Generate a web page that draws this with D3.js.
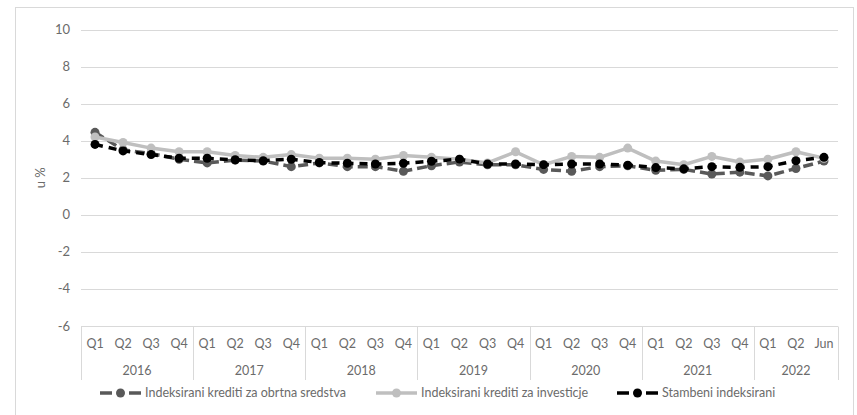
<!DOCTYPE html>
<html>
<head>
<meta charset="utf-8">
<script src="https://cdn.jsdelivr.net/npm/d3@7"></script>
<style>
  body { margin: 0; background: #fff; }
  svg text { font-family: Lato, "Open Sans", sans-serif; fill: #6b6b6b; }
</style>
</head>
<body>
<svg id="chart"></svg>
<script>
// quarters and years on the x axis
const years = ["2016", "2017", "2018", "2019", "2020", "2021", "2022"];
const periods = [
  "Q1","Q2","Q3","Q4", "Q1","Q2","Q3","Q4", "Q1","Q2","Q3","Q4",
  "Q1","Q2","Q3","Q4", "Q1","Q2","Q3","Q4", "Q1","Q2","Q3","Q4",
  "Q1","Q2","Jun"
];
const periodYear = [
  "2016","2016","2016","2016", "2017","2017","2017","2017", "2018","2018","2018","2018",
  "2019","2019","2019","2019", "2020","2020","2020","2020", "2021","2021","2021","2021",
  "2022","2022","2022"
];

// series values (u %)
const obrtna = [
  4.45, 3.5, 3.3, 3.0, 2.8, 2.95, 2.9, 2.6, 2.8, 2.6, 2.6, 2.35,
  2.65, 2.85, 2.7, 2.7, 2.45, 2.35, 2.6, 2.65, 2.4, 2.45, 2.2, 2.3,
  2.1, 2.5, 2.9
];
const investicije = [
  4.2, 3.9, 3.6, 3.4, 3.4, 3.2, 3.1, 3.25, 3.05, 3.05, 3.0, 3.2,
  3.1, 3.0, 2.8, 3.4, 2.7, 3.15, 3.1, 3.6, 2.9, 2.7, 3.15, 2.85,
  3.0, 3.4, 3.05
];
const stambeni = [
  3.8, 3.45, 3.25, 3.05, 3.05, 2.97, 2.92, 3.0, 2.82, 2.78, 2.74, 2.78,
  2.89, 3.0, 2.74, 2.74, 2.7, 2.74, 2.74, 2.68, 2.55, 2.48, 2.6, 2.56,
  2.6, 2.92, 3.1
];

const seriesNames = [
  "Indeksirani krediti za obrtna sredstva",
  "Indeksirani krediti za investicje",
  "Stambeni indeksirani"
];
const yTicks = [-6, -4, -2, 0, 2, 4, 6, 8, 10];

const width = 857, height = 415;
const margin = { top: 29.5, right: 19, bottom: 89, left: 81 };

const svg = d3.select("#chart")
  .attr("width", width)
  .attr("height", height);

// outer chart border
svg.append("rect")
  .attr("x", 15.5).attr("y", 7.5)
  .attr("width", 838).attr("height", 420)
  .attr("fill", "none")
  .attr("stroke", "#d9d9d9");

const x = d3.scaleBand()
  .domain(d3.range(periods.length))
  .range([margin.left, width - margin.right]);

const y = d3.scaleLinear()
  .domain([-6, 10])
  .range([height - margin.bottom, margin.top]);

// gridlines
svg.append("g")
  .selectAll("line")
  .data(yTicks)
  .enter().append("line")
  .attr("x1", margin.left)
  .attr("x2", width - margin.right)
  .attr("y1", d => Math.round(y(d)) + 0.5)
  .attr("y2", d => Math.round(y(d)) + 0.5)
  .attr("stroke", "#d9d9d9")
  .attr("stroke-width", 1);

// y tick labels
svg.append("g")
  .selectAll("text")
  .data(yTicks)
  .enter().append("text")
  .attr("x", 70)
  .attr("y", d => y(d))
  .attr("dy", "0.35em")
  .attr("text-anchor", "end")
  .style("font-size", "13px")
  .text(d => d);

// y axis title
svg.append("text")
  .attr("transform", "translate(45," + y(2) + ") rotate(-90)")
  .attr("text-anchor", "middle")
  .style("font-size", "13px")
  .text("u %");

// category axis: quarter row and year row
const axisTop = Math.round(y(-6)) + 0.5;
const axisBottom = 380;
const axisG = svg.append("g");

axisG.append("line")
  .attr("x1", margin.left).attr("x2", width - margin.right)
  .attr("y1", axisTop).attr("y2", axisTop)
  .attr("stroke", "#d9d9d9");

axisG.selectAll("text.q")
  .data(periods)
  .enter().append("text")
  .attr("class", "q")
  .attr("x", (d, i) => x(i) + x.bandwidth() / 2)
  .attr("y", 344)
  .attr("dy", "0.35em")
  .attr("text-anchor", "middle")
  .style("font-size", "12.5px")
  .text(d => d);

// year groups
const yearSpans = years.map(yr => {
  const idx = periodYear.map((p, i) => p === yr ? i : -1).filter(i => i >= 0);
  return { year: yr, first: idx[0], last: idx[idx.length - 1] };
});

axisG.selectAll("line.sep")
  .data([0].concat(yearSpans.map(s => s.last + 1)))
  .enter().append("line")
  .attr("class", "sep")
  .attr("x1", i => Math.round(i < periods.length ? x(i) : x.range()[1]) + 0.5)
  .attr("x2", i => Math.round(i < periods.length ? x(i) : x.range()[1]) + 0.5)
  .attr("y1", axisTop)
  .attr("y2", axisBottom)
  .attr("stroke", "#d9d9d9");

axisG.selectAll("text.yr")
  .data(yearSpans)
  .enter().append("text")
  .attr("class", "yr")
  .attr("x", s => (x(s.first) + x(s.last) + x.bandwidth()) / 2)
  .attr("y", 371)
  .attr("dy", "0.35em")
  .attr("text-anchor", "middle")
  .style("font-size", "12.5px")
  .text(s => s.year);

// lines
const styles = [
  { color: "#595959", width: 3.5, dash: "10,5", r: 4.5 },
  { color: "#bfbfbf", width: 3.5, dash: null, r: 4.5 },
  { color: "#000000", width: 3.5, dash: "8,6", r: 4.5 }
];
const allSeries = [obrtna, investicije, stambeni];

const line = d3.line()
  .x((d, i) => x(i) + x.bandwidth() / 2)
  .y(d => y(d));

allSeries.forEach(function(values, k) {
  const st = styles[k];
  const g = svg.append("g");
  g.append("path")
    .datum(values)
    .attr("d", line)
    .attr("fill", "none")
    .attr("stroke", st.color)
    .attr("stroke-width", st.width)
    .attr("stroke-dasharray", st.dash)
    .attr("stroke-linejoin", "round");
  g.selectAll("circle")
    .data(values)
    .enter().append("circle")
    .attr("cx", (d, i) => x(i) + x.bandwidth() / 2)
    .attr("cy", d => y(d))
    .attr("r", st.r)
    .attr("fill", st.color);
});

// legend
const legendX = [100, 376, 617];
const legend = svg.append("g");
seriesNames.forEach(function(name, k) {
  const st = styles[k];
  const lx = legendX[k], ly = 393;
  if (st.dash) {
    legend.append("line")
      .attr("x1", lx).attr("x2", lx + 12).attr("y1", ly).attr("y2", ly)
      .attr("stroke", st.color).attr("stroke-width", st.width);
    legend.append("line")
      .attr("x1", lx + 29).attr("x2", lx + 41).attr("y1", ly).attr("y2", ly)
      .attr("stroke", st.color).attr("stroke-width", st.width);
  } else {
    legend.append("line")
      .attr("x1", lx).attr("x2", lx + 41).attr("y1", ly).attr("y2", ly)
      .attr("stroke", st.color).attr("stroke-width", st.width);
  }
  legend.append("circle")
    .attr("cx", lx + 20.5).attr("cy", ly).attr("r", st.r)
    .attr("fill", st.color);
  legend.append("text")
    .attr("x", lx + 45)
    .attr("y", ly)
    .attr("dy", "0.35em")
    .style("font-size", "12.5px")
    .text(name);
});
</script>
</body>
</html>
